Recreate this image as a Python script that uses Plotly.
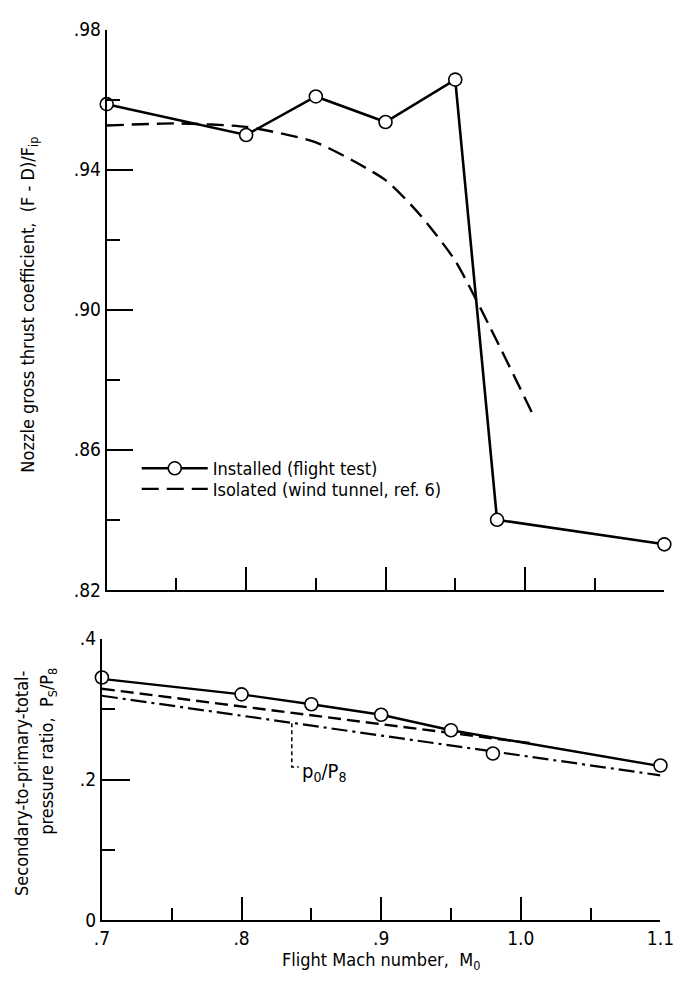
import plotly.graph_objects as go

# ---------------- data ----------------
# Top panel: nozzle gross thrust coefficient (F - D)/Fip
inst_mach = [0.70, 0.80, 0.85, 0.90, 0.95, 0.98, 1.10]
inst_cf = [0.9587, 0.9499, 0.9609, 0.9536, 0.9657, 0.840, 0.833]

iso_mach = [0.70, 0.75, 0.80, 0.85, 0.90, 0.925, 0.95, 0.975, 1.007]
iso_cf = [0.9526, 0.9532, 0.9522, 0.9478, 0.937, 0.927, 0.914, 0.895, 0.869]

# Bottom panel: secondary-to-primary total-pressure ratio Ps/P8
ps_mach = [0.70, 0.80, 0.85, 0.90, 0.95, 0.98, 1.10]
ps_ratio = [0.345, 0.321, 0.307, 0.292, 0.270, 0.237, 0.220]

fair_mach = [0.70, 0.80, 0.85, 0.90, 0.95, 1.10]
fair_ratio = [0.343, 0.321, 0.307, 0.292, 0.270, 0.219]

iso_ps_mach = [0.70, 1.01]
iso_ps_ratio = [0.329, 0.251]

p0_mach = [0.70, 1.10]
p0_ratio = [0.319, 0.206]

top_yticks = [0.82, 0.86, 0.90, 0.94, 0.98]
top_yticktext = [".82", ".86", ".90", ".94", ".98"]
top_yminor = [0.84, 0.88, 0.92, 0.96]
bot_yticks = [0.0, 0.2, 0.4]
bot_yticktext = ["0", ".2", ".4"]
bot_yminor = [0.1, 0.3]
xticks = [0.7, 0.8, 0.9, 1.0, 1.1]
xticktext = [".7", ".8", ".9", "1.0", "1.1"]
xminor = [0.75, 0.85, 0.95, 1.05]

# ---------------- layout helpers ----------------
W, H = 688, 991
FONT = "DejaVu Sans Condensed, Liberation Sans Narrow, Arial Narrow, sans-serif"


def xp(px):
    return px / W


def yp(py):
    return 1 - py / H


fig = go.Figure()

marker = dict(symbol="circle", size=13, color="white", line=dict(color="black", width=1.6))

fig.add_trace(go.Scatter(
    x=inst_mach, y=inst_cf, mode="lines+markers", name="Installed (flight test)",
    line=dict(color="black", width=2.6), marker=marker, cliponaxis=False,
    xaxis="x", yaxis="y", legend="legend"))
fig.add_trace(go.Scatter(
    x=iso_mach, y=iso_cf, mode="lines", name="Isolated (wind tunnel, ref. 6)",
    line=dict(color="black", width=2.4, dash="17px,8px", shape="spline", smoothing=0.6),
    cliponaxis=False, xaxis="x", yaxis="y", legend="legend2"))

fig.add_trace(go.Scatter(
    x=fair_mach, y=fair_ratio, mode="lines", showlegend=False,
    line=dict(color="black", width=2.4), cliponaxis=False, xaxis="x2", yaxis="y2"))
fig.add_trace(go.Scatter(
    x=iso_ps_mach, y=iso_ps_ratio, mode="lines", showlegend=False,
    line=dict(color="black", width=2.4, dash="13px,6px"), cliponaxis=False,
    xaxis="x2", yaxis="y2"))
fig.add_trace(go.Scatter(
    x=p0_mach, y=p0_ratio, mode="lines", showlegend=False,
    line=dict(color="black", width=2.2, dash="16px,5px,3px,5px"), cliponaxis=False,
    xaxis="x2", yaxis="y2"))
fig.add_trace(go.Scatter(
    x=ps_mach, y=ps_ratio, mode="markers", showlegend=False,
    marker=marker, cliponaxis=False, xaxis="x2", yaxis="y2"))

axis_common = dict(showline=True, linecolor="black", linewidth=2, ticks="inside",
                   tickcolor="black", tickwidth=2, showgrid=False, zeroline=False,
                   tickfont=dict(family=FONT, size=19, color="black"))


def minor(vals, ln):
    return dict(tickvals=vals, ticklen=ln, ticks="inside", tickwidth=2, tickcolor="black")


leg_common = dict(xanchor="left", yanchor="middle", bgcolor="rgba(0,0,0,0)",
                  itemwidth=66, font=dict(family=FONT, size=18, color="black"),
                  borderwidth=0)

fig.update_layout(
    width=W, height=H, margin=dict(l=0, r=0, t=0, b=0),
    paper_bgcolor="white", plot_bgcolor="white",
    font=dict(family=FONT, color="black", size=19),
    xaxis=dict(domain=[xp(102), xp(678)], range=[0.7, 1.1], anchor="y",
               tickvals=xticks, ticklen=23, showticklabels=False,
               minor=minor(xminor, 12), **axis_common),
    yaxis=dict(domain=[yp(592), yp(19)], range=[0.82, 0.98], anchor="x",
               tickvals=top_yticks, ticktext=top_yticktext, ticklen=26,
               minor=minor(top_yminor, 13), **axis_common),
    xaxis2=dict(domain=[xp(97), xp(674)], range=[0.7, 1.1], anchor="y2",
                tickvals=xticks, ticktext=xticktext, ticklen=23,
                minor=minor(xminor, 12), **axis_common),
    yaxis2=dict(domain=[yp(930), yp(642)], range=[0.0, 0.4], anchor="x2",
                tickvals=bot_yticks, ticktext=bot_yticktext, ticklen=28,
                minor=minor(bot_yminor, 13), **axis_common),
    legend=dict(x=xp(133), y=yp(468), **leg_common),
    legend2=dict(x=xp(133), y=yp(489), **leg_common),
    showlegend=True,
)

# axis titles
fig.add_annotation(text="Nozzle gross thrust coefficient,  (F - D)/F<sub>ip</sub>",
                   xref="paper", yref="paper", x=xp(22), y=yp(300), textangle=-90,
                   xanchor="center", yanchor="middle",
                   showarrow=False, font=dict(family=FONT, size=18))
fig.add_annotation(text="Secondary-to-primary-total-",
                   xref="paper", yref="paper", x=xp(14), y=yp(790), textangle=-90,
                   xanchor="center", yanchor="middle",
                   showarrow=False, font=dict(family=FONT, size=18))
fig.add_annotation(text="pressure ratio,  P<sub>S</sub>/P<sub>8</sub>",
                   xref="paper", yref="paper", x=xp(42), y=yp(757), textangle=-90,
                   xanchor="center", yanchor="middle",
                   showarrow=False, font=dict(family=FONT, size=18))
fig.add_annotation(text="Flight Mach number,  M<sub>0</sub>",
                   xref="paper", yref="paper", x=xp(385), y=yp(957),
                   xanchor="center", yanchor="top",
                   showarrow=False, font=dict(family=FONT, size=18))

# p0/P8 label with leader
lead_x, lead_top, lead_bot, lead_end = 0.836, 0.280, 0.218, 0.841
fig.add_shape(type="path", xref="x2", yref="y2",
              path=f"M {lead_x} {lead_top} L {lead_x} {lead_bot} L {lead_end} {lead_bot}",
              line=dict(color="black", width=1.5, dash="4px,3px"))
fig.add_annotation(text="p<sub>0</sub>/P<sub>8</sub>", xref="x2", yref="y2",
                   x=0.842, y=0.211, xanchor="left", yanchor="middle",
                   showarrow=False, font=dict(family=FONT, size=20))

fig.write_html("out.html")
